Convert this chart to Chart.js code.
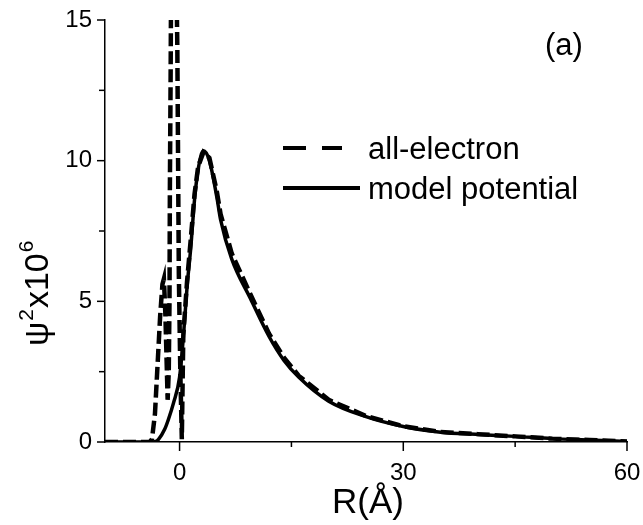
<!DOCTYPE html>
<html>
<head>
<meta charset="utf-8">
<script src="https://cdn.jsdelivr.net/npm/chart.js@4/dist/chart.umd.min.js"></script>
<style>
  html, body { margin: 0; padding: 0; background: #fff; }
  #wrap { width: 643px; height: 525px; position: relative; }
</style>
</head>
<body>
<div id="wrap"><canvas id="chart"></canvas></div>
<script>
// all-electron (dashed) - core wiggles near the origin, then follows the tail
const allElectronX = [-10, -4, -3.7, -3.3, -3.0, -2.6, -2.3, -2.1, -1.9, -1.7, -1.6, -1.45, -1.35, -1.3, -1.2, -1.1, -0.8, -0.5, -0.3, -0.2, -0.1, 0.1, 0.3, 0.5, 1, 1.5, 2, 2.5, 3.2, 4, 5, 5.5, 7, 9.5, 12, 14, 16, 20, 25, 30, 35, 40, 45, 50, 55, 60];
const allElectronY = [0, 0, 0.1, 1.0, 2.5, 4.5, 5.6, 5.8, 4.5, 2.5, 1.5, 2.5, 5, 9, 13, 18, 22, 18, 14, 10, 6, 2.5, 0.1, 3.8, 5.7, 7.2, 8.8, 9.8, 10.3, 10.1, 8.9, 8.1, 6.7, 5.25, 3.85, 3.0, 2.35, 1.5, 0.92, 0.56, 0.36, 0.28, 0.2, 0.12, 0.07, 0.02];

// model potential (solid)
const modelX = [-10, -4, -3.2, -2.8, -2, -1.5, -0.8, 0, 0.5, 1, 1.5, 2, 2.5, 3.2, 4, 5, 5.5, 7, 9.5, 12, 14, 16, 20, 25, 30, 35, 40, 45, 50, 55, 60];
const modelY = [0, 0, 0.02, 0.1, 0.45, 0.8, 1.4, 2.3, 3.7, 5.5, 6.9, 8.6, 9.7, 10.35, 10.0, 8.7, 7.9, 6.5, 5.1, 3.75, 2.9, 2.3, 1.45, 0.9, 0.55, 0.35, 0.27, 0.2, 0.12, 0.07, 0.02];

const xTicks = [0, 15, 30, 45, 60];
const xLabels = [0, 30, 60];
const yTicks = [0, 2.5, 5, 7.5, 10, 12.5, 15];
const yLabels = [0, 5, 10, 15];

const legendNames = ['all-electron', 'model potential'];

const pts = (xs, ys) => xs.map((x, i) => ({ x: x, y: ys[i] }));
const FONT = '"Liberation Sans", Arial, sans-serif';

const decor = {
  id: 'decor',
  afterDraw(chart) {
    const ctx = chart.ctx;
    const xs = chart.scales.x, ys = chart.scales.y;
    ctx.save();
    ctx.strokeStyle = '#000';
    ctx.fillStyle = '#000';
    ctx.lineWidth = 1.5;
    // tick marks, major longer than minor
    xTicks.forEach(v => {
      const px = xs.getPixelForValue(v);
      const len = xLabels.includes(v) ? 9 : 5;
      ctx.beginPath(); ctx.moveTo(px, ys.bottom); ctx.lineTo(px, ys.bottom + len); ctx.stroke();
    });
    yTicks.forEach(v => {
      const py = ys.getPixelForValue(v);
      const len = yLabels.includes(v) ? 8 : 6;
      ctx.beginPath(); ctx.moveTo(xs.left, py); ctx.lineTo(xs.left - len, py); ctx.stroke();
    });

    // legend
    ctx.lineWidth = 4;
    ctx.setLineDash([23, 16]);
    ctx.beginPath(); ctx.moveTo(283, 148); ctx.lineTo(342, 148); ctx.stroke();
    ctx.setLineDash([]);
    ctx.beginPath(); ctx.moveTo(283, 188); ctx.lineTo(360, 188); ctx.stroke();
    ctx.font = '31px ' + FONT;
    ctx.textBaseline = 'middle';
    ctx.textAlign = 'left';
    ctx.fillText(legendNames[0], 368, 150);
    ctx.fillText(legendNames[1], 368, 190);

    // panel label
    ctx.fillText('(a)', 545, 46);

    // x title
    ctx.font = '35px ' + FONT;
    ctx.textAlign = 'center';
    ctx.fillText('R(Å)', 368, 503);

    // y title with superscripts
    ctx.translate(48, 346);
    ctx.rotate(-Math.PI / 2);
    ctx.textAlign = 'left';
    ctx.textBaseline = 'alphabetic';
    let cx = 0;
    const big = '34px ' + FONT, small = '21px ' + FONT;
    ctx.font = big; ctx.fillText('ψ', cx, 0); cx += ctx.measureText('ψ').width + 1;
    ctx.font = small; ctx.fillText('2', cx, -15); cx += ctx.measureText('2').width + 1;
    ctx.font = big; ctx.fillText('x10', cx, 0); cx += ctx.measureText('x10').width + 1;
    ctx.font = small; ctx.fillText('6', cx, -15);
    ctx.restore();
  }
};

new Chart(document.getElementById('chart'), {
  type: 'scatter',
  data: {
    datasets: [
      {
        label: legendNames[0],
        data: pts(allElectronX, allElectronY),
        showLine: true,
        borderColor: '#000',
        borderWidth: 4.5,
        borderDash: [13, 5],
        pointRadius: 0
      },
      {
        label: legendNames[1],
        data: pts(modelX, modelY),
        showLine: true,
        borderColor: '#000',
        borderWidth: 3.5,
        pointRadius: 0,
        cubicInterpolationMode: 'monotone'
      }
    ]
  },
  options: {
    responsive: true,
    maintainAspectRatio: false,
    animation: false,
    layout: { padding: { top: 20, right: 0, left: 0, bottom: 0 } },
    plugins: { legend: { display: false }, tooltip: { enabled: false } },
    scales: {
      x: {
        type: 'linear', min: -10, max: 60,
        afterBuildTicks: s => { s.ticks = xTicks.map(v => ({ value: v })); },
        afterFit: s => { s.height = 83; s.paddingLeft = 0; s.paddingRight = 16; },
        grid: { display: false, drawTicks: false },
        border: { display: true, color: '#000', width: 1.5 },
        ticks: {
          padding: 17, color: '#000', maxRotation: 0, autoSkip: false,
          font: { family: FONT, size: 24 },
          callback: v => xLabels.includes(v) ? String(v) : ''
        }
      },
      y: {
        type: 'linear', min: 0, max: 15,
        afterBuildTicks: s => { s.ticks = yTicks.map(v => ({ value: v })); },
        afterFit: s => { s.width = 105; s.paddingTop = 0; s.paddingBottom = 0; },
        grid: { display: false, drawTicks: false },
        border: { display: true, color: '#000', width: 1.5 },
        ticks: {
          padding: 13, color: '#000', autoSkip: false,
          font: { family: FONT, size: 24 },
          callback: v => yLabels.includes(v) ? String(v) : ''
        }
      }
    }
  },
  plugins: [decor]
});
</script>
</body>
</html>
